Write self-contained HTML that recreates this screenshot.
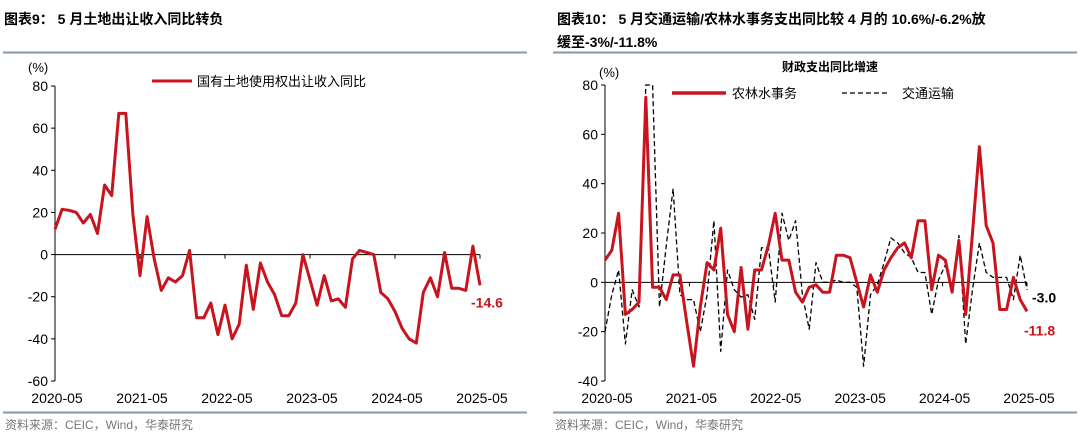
<!DOCTYPE html>
<html><head><meta charset="utf-8"><style>
body{margin:0;background:#fff}
svg{display:block;font-family:"Liberation Sans","Noto Sans CJK SC",sans-serif}
</style></head><body>
<svg width="1080" height="440" viewBox="0 0 1080 440" id="s">
<text x="4" y="24" font-size="14" font-weight="bold">图表9：  5 月土地出让收入同比转负</text>
<text x="557" y="24" font-size="14" font-weight="bold">图表10：  5 月交通运输/农林水事务支出同比较 4 月的 10.6%/-6.2%放</text>
<text x="557" y="47" font-size="14" font-weight="bold">缓至-3%/-11.8%</text>
<line x1="3" y1="52.5" x2="527" y2="52.5" stroke="#8497ad" stroke-width="2"/>
<line x1="553" y1="52.5" x2="1077" y2="52.5" stroke="#8497ad" stroke-width="2"/>
<line x1="3" y1="412.5" x2="527" y2="412.5" stroke="#8497ad" stroke-width="2"/>
<line x1="553" y1="412.5" x2="1077" y2="412.5" stroke="#8497ad" stroke-width="2"/>
<text x="5" y="429" font-size="12" fill="#777">资料来源：CEIC，Wind，华泰研究</text>
<text x="555" y="429" font-size="12" fill="#777">资料来源：CEIC，Wind，华泰研究</text>
<text x="28" y="72" font-size="13">(%)</text>
<text x="599" y="77" font-size="13">(%)</text>
<text x="830" y="71" font-size="12" text-anchor="middle" font-weight="bold">财政支出同比增速</text>
<line x1="152" y1="81" x2="192" y2="81" stroke="#c8141e" stroke-width="3"/>
<text x="197" y="86" font-size="13">国有土地使用权出让收入同比</text>
<line x1="672" y1="93" x2="726" y2="93" stroke="#c8141e" stroke-width="3.5"/>
<text x="732" y="98" font-size="13">农林水事务</text>
<line x1="842" y1="93" x2="890" y2="93" stroke="#000" stroke-width="1.3" stroke-dasharray="5,3"/>
<text x="902" y="98" font-size="13">交通运输</text>
<g id="L"></g><g id="R"></g>
</svg>
<script>
const xLabels=["2020-05","2021-05","2022-05","2023-05","2024-05","2025-05"];
const leftTicks=[80,60,40,20,0,-20,-40,-60];
const rightTicks=[80,60,40,20,0,-20,-40];
const landRevenue=[12,21.5,21,20,15,19,10,33,28,67,67,19,-10,18,-2,-17,-11,-13,-10,2,-30,-30,-23,-38,-24,-40,-33,-5,-26,-4,-13,-19,-29,-29,-23,0,-12,-24,-10,-22,-21,-25,-2,2,1,0,-18,-21,-27,-35,-40,-42,-18,-11,-20,1,-16,-16,-17,4,-14.6];
const agriWater=[9,13,28,-13,-11,-8,75,-2,-2,-7,3,3,-16,-34,-10,8,5,22,-13,-20,6,-19,5,5,15,28,9,9,-4,-8,-2,-1,-4,-4,11,11,10,0,-10,3,-4,5,10,14,16,10,25,25,-3,11,9,-4,17,-13,20,55,23,16,-11,-11,2,-7,-11.8];
const transport=[-20,-5,5,-25,-3,-10,80,80,-10,15,38,-5,-7,-7,-20,-5,25,-28,5,-3,-6,-5,-15,14,14,-8,28,17,25,-5,-19,8,0,0,1,0,0,-2,-34,-5,-1,8,18,16,12,10,4,4,-13,1,7,-3,19,-25,-3,16,4,2,2,2,-7,11,-3.0];
const NS="http://www.w3.org/2000/svg";
function mk(p,t,a){const e=document.createElementNS(NS,t);for(const k in a)e.setAttribute(k,a[k]);p.appendChild(e);return e;}
function chart(g,o){
  const y=v=>o.y0+(v-o.vmin)/(o.vmax-o.vmin)*(o.y1-o.y0);
  const ax=mk(g,'line',{x1:o.x0,y1:y(o.vmax),x2:o.x0,y2:y(o.vmin),stroke:'#000','stroke-width':1});
  
  const zl=mk(g,'line',{x1:o.x0,y1:y(0),x2:o.x1,y2:y(0),stroke:'#000','stroke-width':1});
  
  o.ticks.forEach(t=>{
    const tl=mk(g,'line',{x1:o.x0-4,y1:y(t),x2:o.x0,y2:y(t),stroke:'#000'});
    
    const tx=mk(g,'text',{x:o.x0-7,y:y(t)+5,'font-size':14,'text-anchor':'end'});tx.textContent=t;
    
  });
  xLabels.forEach((l,i)=>{
    const xx=o.x0+i*(o.x1-o.x0)/5;
    const tk=mk(g,'line',{x1:xx,y1:y(0),x2:xx,y2:y(0)+4,stroke:'#000'});
    
    const tx=mk(g,'text',{x:xx+2,y:403,'font-size':14,'text-anchor':'middle'});tx.textContent=l;
    
  });
  o.series.forEach(s=>{
    const n=s.data.length;
    const pts=s.data.map((v,i)=>(o.x0+i*(o.x1-o.x0)/(n-1)).toFixed(1)+','+y(v).toFixed(1)).join(' ');
    const a={points:pts,fill:'none',stroke:s.color,'stroke-width':s.w,'stroke-linejoin':'round'};
    if(s.dash)a['stroke-dasharray']=s.dash;
    const pl=mk(g,'polyline',a);
    
    const last=s.data[n-1];
    const lb=mk(g,'text',{x:s.lx,y:y(last)+s.dy,'font-size':14,'font-weight':'bold',fill:s.color});
    lb.textContent=last.toFixed(1);
    
  });
}
chart(document.getElementById('L'),{x0:55,x1:480,y0:381,y1:86,vmin:-60,vmax:80,ticks:leftTicks,
  series:[{data:landRevenue,color:'#c8141e',w:3,name:'land-revenue-line',lx:471,dy:22}]});
chart(document.getElementById('R'),{x0:605,x1:1027,y0:381,y1:85,vmin:-40,vmax:80,ticks:rightTicks,
  series:[{data:transport,color:'#000',w:1.3,dash:'5,3',name:'transport-line',lx:1032,dy:13},
          {data:agriWater,color:'#c8141e',w:3,name:'agri-water-line',lx:1024,dy:24}]});
</script>
</body></html>
